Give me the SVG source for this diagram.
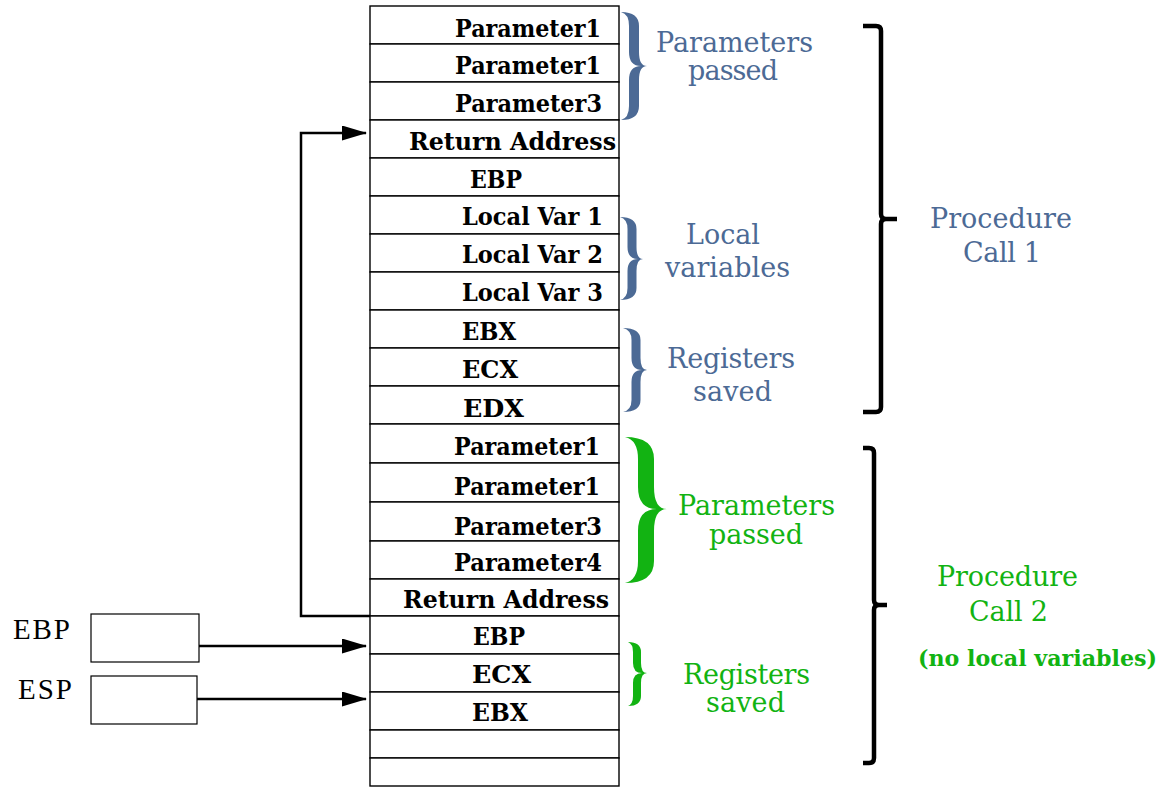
<svg xmlns="http://www.w3.org/2000/svg" width="1163" height="789" viewBox="0 0 1163 789">
  <style>
    .cell { fill: #ffffff; stroke: #000000; stroke-width: 1.4; }
    .cellText { font-family: "DejaVu Serif", "Liberation Serif", serif; font-weight: bold; font-size: 24px; fill: #000000; }
    .regBox { fill: #ffffff; stroke: #000000; stroke-width: 1.2; }
    .regLabel { font-family: "Liberation Serif", "DejaVu Serif", serif; font-size: 29px; fill: #000000; }
    .wire { fill: none; stroke: #000000; stroke-width: 2.5; }
    .bracket { fill: none; stroke: #000000; stroke-width: 4.5; stroke-linejoin: round; }
    .blue { fill: #4c6a95; }
    .green { fill: #12b312; }
    .note { font-family: "DejaVu Serif", "Liberation Serif", serif; font-size: 27px; }
    .noteBold { font-family: "DejaVu Serif", "Liberation Serif", serif; font-size: 22px; font-weight: bold; }
  </style>
  <defs>
    <marker id="arrow" markerUnits="userSpaceOnUse" markerWidth="25" markerHeight="15" refX="24" refY="7.5" orient="auto">
      <path d="M0,0 L25,7.5 L0,15 Z" fill="#000000"/>
    </marker>
  </defs>

  <rect width="1163" height="789" fill="#ffffff"/>

  <!-- stack frame cells, top of memory first -->
  <g id="stack">
    <g id="cell-01"><rect class="cell" x="370" y="6" width="249" height="38"/><text class="cellText" x="455" y="37" textLength="146" lengthAdjust="spacingAndGlyphs">Parameter1</text></g>
    <g id="cell-02"><rect class="cell" x="370" y="44" width="249" height="38"/><text class="cellText" x="455" y="74" textLength="146" lengthAdjust="spacingAndGlyphs">Parameter1</text></g>
    <g id="cell-03"><rect class="cell" x="370" y="82" width="249" height="38"/><text class="cellText" x="455" y="112" textLength="147" lengthAdjust="spacingAndGlyphs">Parameter3</text></g>
    <g id="cell-04"><rect class="cell" x="370" y="120" width="249" height="38"/><text class="cellText" x="409" y="150" textLength="207" lengthAdjust="spacingAndGlyphs">Return Address</text></g>
    <g id="cell-05"><rect class="cell" x="370" y="158" width="249" height="38"/><text class="cellText" x="470" y="188" textLength="52" lengthAdjust="spacingAndGlyphs">EBP</text></g>
    <g id="cell-06"><rect class="cell" x="370" y="196" width="249" height="38"/><text class="cellText" x="462" y="225" textLength="141" lengthAdjust="spacingAndGlyphs">Local Var 1</text></g>
    <g id="cell-07"><rect class="cell" x="370" y="234" width="249" height="38"/><text class="cellText" x="462" y="263" textLength="141" lengthAdjust="spacingAndGlyphs">Local Var 2</text></g>
    <g id="cell-08"><rect class="cell" x="370" y="272" width="249" height="38"/><text class="cellText" x="462" y="301" textLength="141" lengthAdjust="spacingAndGlyphs">Local Var 3</text></g>
    <g id="cell-09"><rect class="cell" x="370" y="310" width="249" height="38"/><text class="cellText" x="462" y="340" textLength="54" lengthAdjust="spacingAndGlyphs">EBX</text></g>
    <g id="cell-10"><rect class="cell" x="370" y="348" width="249" height="38"/><text class="cellText" x="462" y="378" textLength="56" lengthAdjust="spacingAndGlyphs">ECX</text></g>
    <g id="cell-11"><rect class="cell" x="370" y="386" width="249" height="38"/><text class="cellText" x="463" y="417" textLength="61" lengthAdjust="spacingAndGlyphs">EDX</text></g>
    <g id="cell-12"><rect class="cell" x="370" y="424" width="249" height="39"/><text class="cellText" x="454" y="455" textLength="146" lengthAdjust="spacingAndGlyphs">Parameter1</text></g>
    <g id="cell-13"><rect class="cell" x="370" y="463" width="249" height="39"/><text class="cellText" x="454" y="495" textLength="146" lengthAdjust="spacingAndGlyphs">Parameter1</text></g>
    <g id="cell-14"><rect class="cell" x="370" y="502" width="249" height="39"/><text class="cellText" x="454" y="535" textLength="148" lengthAdjust="spacingAndGlyphs">Parameter3</text></g>
    <g id="cell-15"><rect class="cell" x="370" y="541" width="249" height="38"/><text class="cellText" x="454" y="571" textLength="148" lengthAdjust="spacingAndGlyphs">Parameter4</text></g>
    <g id="cell-16"><rect class="cell" x="370" y="579" width="249" height="37"/><text class="cellText" x="403" y="608" textLength="206" lengthAdjust="spacingAndGlyphs">Return Address</text></g>
    <g id="cell-17"><rect class="cell" x="370" y="616" width="249" height="38"/><text class="cellText" x="473" y="645" textLength="52" lengthAdjust="spacingAndGlyphs">EBP</text></g>
    <g id="cell-18"><rect class="cell" x="370" y="654" width="249" height="38"/><text class="cellText" x="472" y="683" textLength="59" lengthAdjust="spacingAndGlyphs">ECX</text></g>
    <g id="cell-19"><rect class="cell" x="370" y="692" width="249" height="38"/><text class="cellText" x="472" y="721" textLength="56" lengthAdjust="spacingAndGlyphs">EBX</text></g>
    <g id="cell-20"><rect class="cell" x="370" y="730" width="249" height="28"/></g>
    <g id="cell-21"><rect class="cell" x="370" y="758" width="249" height="28"/></g>
  </g>

  <!-- register boxes -->
  <g id="reg-ebp">
    <text class="regLabel" x="13" y="639" textLength="57">EBP</text>
    <rect class="regBox" x="91" y="614" width="108" height="48"/>
  </g>
  <g id="reg-esp">
    <text class="regLabel" x="18" y="699" textLength="54">ESP</text>
    <rect class="regBox" x="91" y="676" width="106" height="48"/>
  </g>

  <!-- pointers -->
  <g id="connectors">
    <path class="wire" d="M370,616 L301,616 L301,133 L366,133" stroke-width="2.8" marker-end="url(#arrow)"/>
    <path class="wire" d="M199,646 L366,646" marker-end="url(#arrow)"/>
    <path class="wire" d="M197,699 L366,699" marker-end="url(#arrow)"/>
  </g>

  <!-- group braces for procedure call 1 -->
  <g id="brace-params-1">
    <path class="blue" d="M621,12 Q639,12 639,26 L639,52 Q639,66 647,66 Q639,66 639,80 L639,106 Q639,120 621,120 Q629,118 629,106 L629,80 Q629,66 641,66 Q629,66 629,52 L629,26 Q629,14 621,12 Z"/>
    <text class="note blue" x="656" y="52" textLength="157">Parameters</text>
    <text class="note blue" x="688" y="80" textLength="90">passed</text>
  </g>
  <g id="brace-locals-1">
    <path class="blue" d="M620,217 Q636.5,217 636.5,229 L636.5,247 Q636.5,259 643,259 Q636.5,259 636.5,271 L636.5,288 Q636.5,300 620,300 Q627.5,298 627.5,288 L627.5,271 Q627.5,259 638,259 Q627.5,259 627.5,247 L627.5,229 Q627.5,219 620,217 Z"/>
    <text class="note blue" x="686" y="244" textLength="74">Local</text>
    <text class="note blue" x="665" y="277" textLength="125">variables</text>
  </g>
  <g id="brace-regs-1">
    <path class="blue" d="M623,328 Q640.5,328 640.5,340 L640.5,358 Q640.5,370 647,370 Q640.5,370 640.5,382 L640.5,400 Q640.5,412 623,412 Q631.5,410 631.5,400 L631.5,382 Q631.5,370 642,370 Q631.5,370 631.5,358 L631.5,340 Q631.5,330 623,328 Z"/>
    <text class="note blue" x="667" y="368" textLength="128">Registers</text>
    <text class="note blue" x="693" y="401" textLength="79">saved</text>
  </g>

  <!-- group braces for procedure call 2 -->
  <g id="brace-params-2">
    <path class="green" d="M625,437 Q654,437 654,459 L654,487 Q654,509 667,509 Q654,509 654,531 L654,561 Q654,583 625,583 Q638,580 638,561 L638,531 Q638,509 657,509 Q638,509 638,487 L638,459 Q638,440 625,437 Z"/>
    <text class="note green" x="678" y="515" textLength="157">Parameters</text>
    <text class="note green" x="709" y="544" textLength="94">passed</text>
  </g>
  <g id="brace-regs-2">
    <path class="green" d="M628,642 Q641,642 641,652 L641,663 Q641,673 647,673 Q641,673 641,683 L641,696 Q641,706 628,706 Q633,704 633,696 L633,683 Q633,673 642,673 Q633,673 633,663 L633,652 Q633,644 628,642 Z"/>
    <text class="note green" x="683" y="684" textLength="127">Registers</text>
    <text class="note green" x="706" y="712" textLength="79">saved</text>
  </g>

  <!-- procedure call extents -->
  <g id="call-1">
    <path class="bracket" d="M863,26 L876,26 Q881,26 881,31 L881,214 Q881,219 886,219 L897,219 M886,219 Q881,219 881,224 L881,407 Q881,412 876,412 L863,412"/>
    <text class="note blue" x="930" y="228" textLength="142">Procedure</text>
    <text class="note blue" x="963" y="262" textLength="78">Call 1</text>
  </g>
  <g id="call-2">
    <path class="bracket" d="M863,448 L869,448 Q874,448 874,453 L874,600 Q874,605 879,605 L887,605 M879,605 Q874,605 874,610 L874,758 Q874,763 869,763 L863,763" stroke-width="4"/>
    <text class="note green" x="937" y="586" textLength="141">Procedure</text>
    <text class="note green" x="969" y="621" textLength="79">Call 2</text>
    <text class="noteBold green" x="918" y="666" textLength="239" lengthAdjust="spacingAndGlyphs">(no local variables)</text>
  </g>
</svg>
